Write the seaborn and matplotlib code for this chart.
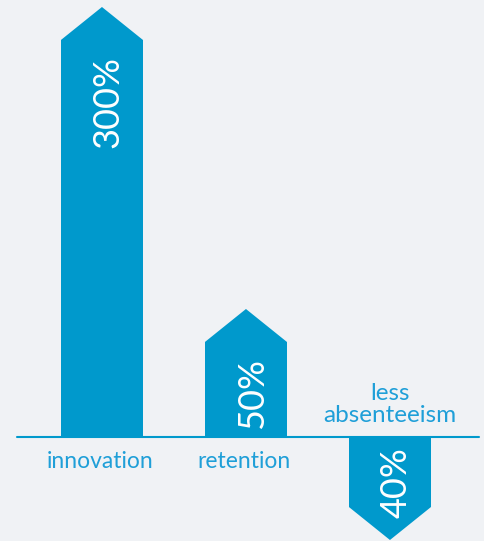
import matplotlib
matplotlib.use("Agg")
import matplotlib.pyplot as plt
import matplotlib.transforms as mtransforms
from matplotlib.patches import Polygon
import seaborn as sns
import pandas as pd

# ---- data ----
categories = ["innovation", "retention", "less\nabsenteeism"]
value_labels = ["300%", "50%", "40%"]
# drawn arrow-body lengths (not to scale with labels)
bar_lengths = [397, 95, -70]
tip_length = 33

BAR = "#0099cc"
TXT = "#1f9fd8"
BG = "#f0f2f5"

sns.set_theme(style="white")
plt.rcParams["font.family"] = ["Lato", "DejaVu Sans"]

df = pd.DataFrame({"cat": categories, "len": bar_lengths})

fig = plt.figure(figsize=(4.85, 5.41), dpi=100, facecolor=BG)
ax = fig.add_axes([0, 0, 1, 1])
ax.set_facecolor(BG)

sns.barplot(data=df, x="cat", y="len", color=BAR, width=0.57,
            saturation=1, ax=ax, edgecolor="none", linewidth=0)

ax.set_xlim(-0.708, 2.66)
ax.set_ylim(-104, 437)
ax.axis("off")

# arrow tips
for p, L in zip(ax.patches, bar_lengths):
    x0 = p.get_x()
    w = p.get_width()
    d = 1 if L > 0 else -1
    tri = Polygon([[x0, L], [x0 + w, L], [x0 + w / 2, L + d * tip_length]],
                  closed=True, facecolor=BAR, edgecolor="none", zorder=p.get_zorder())
    ax.add_patch(tri)

# baseline
ax.axhline(0, xmin=17 / 485, xmax=479 / 485, color=BAR, lw=1.5, zorder=3)

# rotated value labels
off = mtransforms.ScaledTranslation(12 / 72, 0, fig.dpi_scale_trans)
for i, (L, lab) in enumerate(zip(bar_lengths, value_labels)):
    y = L - 16 if L > 0 else -10
    ax.text(i, y, lab, rotation=90, rotation_mode="anchor", ha="right",
            va="baseline", color="white", fontsize=26,
            transform=ax.transData + off, zorder=4)

# category labels
for i, (L, c) in enumerate(zip(bar_lengths, categories)):
    if L > 0:
        ax.text(i - 0.015, -25, c, ha="center", va="center", color=TXT, fontsize=16.5)
    else:
        ax.text(i, 11, c, ha="center", va="bottom", color=TXT, fontsize=17.5,
                linespacing=1.05)

fig.savefig("out.png", dpi=100, facecolor=BG)
